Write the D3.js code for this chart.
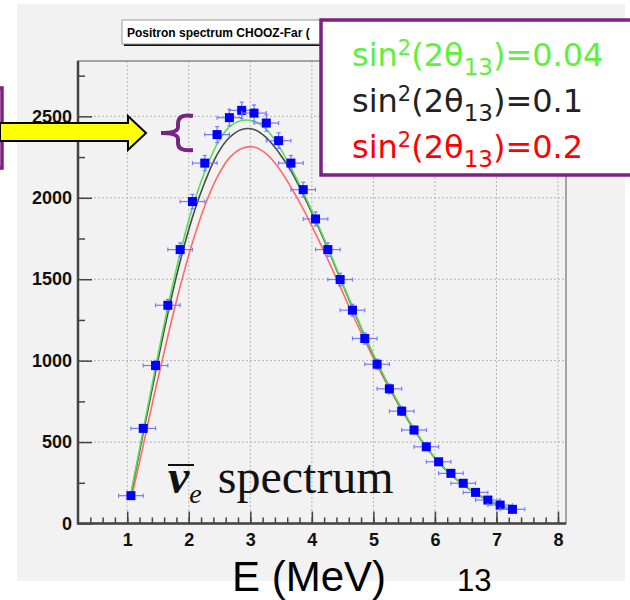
<!DOCTYPE html>
<html>
<head>
  <meta charset="utf-8">
  <style>
    body { margin: 0; background: white; }
    svg { display: block; }
    .tick text { font-family: "Liberation Sans", Arial, sans-serif; font-weight: bold; font-size: 18px; fill: #111; }
  </style>
</head>
<body>
  <svg id="chart" width="630" height="600"></svg>
  <script src="https://cdn.jsdelivr.net/npm/d3@7"></script>
  <script>
    // bin centres (MeV) and measured counts
    var energies = [1.06, 1.26, 1.46, 1.66, 1.86, 2.06, 2.26, 2.46, 2.66, 2.86, 3.06, 3.26, 3.46, 3.66, 3.86, 4.06,
      4.26, 4.46, 4.66, 4.86, 5.06, 5.26, 5.46, 5.66, 5.86, 6.06, 6.26, 6.46, 6.66, 6.86, 7.06, 7.26];
    var counts = [171, 584, 970, 1340, 1682, 1977, 2213, 2388, 2492, 2537, 2520, 2459, 2351, 2213, 2050, 1870,
      1682, 1498, 1310, 1136, 978, 827, 690, 574, 471, 379, 308, 247, 191, 144, 113, 87];
    var countErrors = [14, 24, 31, 36, 41, 44, 47, 49, 50, 50, 50, 50, 48, 47, 45, 43,
      41, 39, 36, 34, 31, 29, 26, 24, 22, 19, 18, 16, 14, 12, 11, 9];
    var energyError = 0.2;

    // expected spectra for three values of sin^2(2theta13)
    var curveGreen = [185, 575, 960, 1330, 1660, 1940, 2160, 2330, 2435, 2475, 2470, 2420, 2320, 2185, 2035, 1870,
      1695, 1510, 1330, 1155, 990, 840, 705, 580, 470, 378, 302, 240, 188, 145, 112, 86];
    var curveBlack = [178, 555, 930, 1290, 1610, 1880, 2095, 2265, 2370, 2420, 2420, 2370, 2280, 2165, 2020, 1860,
      1688, 1505, 1325, 1150, 987, 838, 703, 579, 469, 377, 301, 239, 187, 144, 111, 85];
    var curveRed = [145, 480, 825, 1150, 1455, 1725, 1950, 2125, 2245, 2303, 2312, 2270, 2185, 2065, 1930, 1780,
      1620, 1455, 1285, 1125, 972, 828, 697, 575, 467, 376, 300, 238, 186, 143, 110, 84];

    var xTicks = [1, 2, 3, 4, 5, 6, 7, 8];
    var yTicks = [0, 500, 1000, 1500, 2000, 2500];
    var legendLabels = ["0.04", "0.1", "0.2"];
    var legendColors = ["#5ef03a", "#222222", "#ff0000"];

    var svg = d3.select("#chart");
    var x = d3.scaleLinear().domain([0.2, 8.13]).range([78, 566]);
    var y = d3.scaleLinear().domain([0, 2840]).range([523.5, 61]);

    // grey ROOT canvas
    svg.append("rect").attr("x", 17).attr("y", 4).attr("width", 608).attr("height", 577).attr("fill", "#f2f2f2");

    // grid
    var grid = svg.append("g");
    grid.selectAll(".gx").data(xTicks).join("line")
      .attr("x1", d => x(d)).attr("x2", d => x(d)).attr("y1", y.range()[1]).attr("y2", y.range()[0])
      .attr("stroke", "#b4b4b4").attr("stroke-dasharray", "2,2");
    grid.selectAll(".gy").data(yTicks.slice(1)).join("line")
      .attr("x1", x.range()[0]).attr("x2", x.range()[1]).attr("y1", d => y(d)).attr("y2", d => y(d))
      .attr("stroke", "#b4b4b4").attr("stroke-dasharray", "2,2");

    // axes (ticks pointing inside)
    svg.append("g").attr("transform", "translate(0," + y.range()[0] + ")")
      .call(d3.axisBottom(x).tickValues(d3.range(0.4, 8.1, 0.2)).tickSize(-6).tickFormat(""))
      .call(g => g.select(".domain").remove());
    svg.append("g").attr("transform", "translate(0," + y.range()[0] + ")")
      .call(d3.axisBottom(x).tickValues(xTicks).tickSize(-12).tickPadding(10).tickFormat(d3.format("d")))
      .call(g => g.select(".domain").remove());
    svg.append("g").attr("transform", "translate(" + x.range()[0] + ",0)")
      .call(d3.axisLeft(y).tickValues([250, 750, 1250, 1750, 2250, 2750]).tickSize(-7).tickFormat(""))
      .call(g => g.select(".domain").remove());
    svg.append("g").attr("transform", "translate(" + x.range()[0] + ",0)")
      .call(d3.axisLeft(y).tickValues(yTicks).tickSize(-14).tickPadding(6).tickFormat(d3.format("d")))
      .call(g => g.select(".domain").remove());
    svg.selectAll(".tick line").attr("stroke", "#444").attr("stroke-width", 1.5);

    // frame
    svg.append("rect").attr("x", x.range()[0]).attr("y", y.range()[1])
      .attr("width", x.range()[1] - x.range()[0]).attr("height", y.range()[0] - y.range()[1])
      .attr("fill", "none").attr("stroke", "#8a8a8a").attr("stroke-width", 1.5);
    svg.append("path")
      .attr("d", "M" + x.range()[0] + "," + y.range()[1] + "V" + y.range()[0] + "H" + x.range()[1])
      .attr("fill", "none").attr("stroke", "#444").attr("stroke-width", 2.5);

    // expected curves
    var line = d3.line().x((d, i) => x(energies[i])).y(d => y(d)).curve(d3.curveCatmullRom);
    [[curveRed, "#ff6a6a"], [curveBlack, "#4a4a4a"], [curveGreen, "#55e055"]].forEach(function (c) {
      svg.append("path").datum(c[0]).attr("d", line)
        .attr("fill", "none").attr("stroke", c[1]).attr("stroke-width", 1.6);
    });

    // data points with error bars
    var pts = svg.append("g").selectAll("g").data(counts).join("g");
    var errColor = "#7a7aff";
    pts.append("line")
      .attr("x1", (d, i) => x(energies[i] - energyError)).attr("x2", (d, i) => x(energies[i] + energyError))
      .attr("y1", d => y(d)).attr("y2", d => y(d)).attr("stroke", errColor).attr("stroke-width", 1.2);
    pts.append("line")
      .attr("x1", (d, i) => x(energies[i])).attr("x2", (d, i) => x(energies[i]))
      .attr("y1", (d, i) => y(d - countErrors[i])).attr("y2", (d, i) => y(d + countErrors[i]))
      .attr("stroke", errColor).attr("stroke-width", 1.2);
    [-1, 1].forEach(function (s) {
      pts.append("line")
        .attr("x1", (d, i) => x(energies[i] + s * energyError)).attr("x2", (d, i) => x(energies[i] + s * energyError))
        .attr("y1", d => y(d) - 2).attr("y2", d => y(d) + 2).attr("stroke", errColor).attr("stroke-width", 1.2);
      pts.append("line")
        .attr("x1", (d, i) => x(energies[i]) - 2).attr("x2", (d, i) => x(energies[i]) + 2)
        .attr("y1", (d, i) => y(d + s * countErrors[i])).attr("y2", (d, i) => y(d + s * countErrors[i]))
        .attr("stroke", errColor).attr("stroke-width", 1.2);
    });
    pts.append("rect")
      .attr("x", (d, i) => x(energies[i]) - 4.5).attr("y", d => y(d) - 4.5)
      .attr("width", 9).attr("height", 9).attr("fill", "#0000ff");

    // histogram title box
    svg.append("rect").attr("x", 124).attr("y", 22).attr("width", 230).attr("height", 24).attr("fill", "#111");
    svg.append("rect").attr("x", 122).attr("y", 20).attr("width", 230).attr("height", 24)
      .attr("fill", "white").attr("stroke", "#9a9a9a");
    svg.append("text").attr("x", 127).attr("y", 37)
      .attr("font-family", "Liberation Sans, Arial, sans-serif").attr("font-weight", "bold").attr("font-size", 12)
      .text("Positron spectrum CHOOZ-Far (");

    // nu_e spectrum label
    var nu = svg.append("text").attr("x", 168).attr("y", 493)
      .attr("font-family", "Liberation Serif, Times New Roman, serif").attr("font-size", 48).attr("fill", "#111");
    nu.append("tspan").attr("font-style", "italic").attr("font-weight", "bold").text("ν");
    nu.append("tspan").attr("font-style", "italic").attr("font-size", 28).attr("dy", 10).text("e");
    nu.append("tspan").attr("dx", 16).attr("dy", -10).text("spectrum");
    svg.append("line").attr("x1", 168).attr("x2", 194).attr("y1", 465).attr("y2", 465)
      .attr("stroke", "#111").attr("stroke-width", 2);

    // axis title and page number
    svg.append("text").attr("x", 232).attr("y", 591)
      .attr("font-family", "Liberation Sans, Arial, sans-serif").attr("font-size", 42).text("E (MeV)");
    svg.append("text").attr("x", 457).attr("y", 591)
      .attr("font-family", "Liberation Sans, Arial, sans-serif").attr("font-size", 31).text("13");

    // legend
    var purple = "#7b2283";
    svg.append("rect").attr("x", 321).attr("y", 20).attr("width", 320).attr("height", 155)
      .attr("fill", "white").attr("stroke", purple).attr("stroke-width", 3.5);
    legendLabels.forEach(function (lab, i) {
      var t = svg.append("text").attr("x", 352).attr("y", 66 + i * 46)
        .attr("font-family", "DejaVu Sans, sans-serif").attr("font-size", 32).attr("fill", legendColors[i]);
      t.append("tspan").text("sin");
      t.append("tspan").attr("font-size", 21).attr("dy", -11).text("2");
      t.append("tspan").attr("dy", 11).text("(2θ");
      t.append("tspan").attr("font-size", 23).attr("dy", 9).text("13");
      t.append("tspan").attr("dy", -9).text(")=" + lab);
    });

    // yellow arrow, brace and left box
    svg.append("rect").attr("x", -30).attr("y", 88).attr("width", 32).attr("height", 80)
      .attr("fill", "white").attr("stroke", purple).attr("stroke-width", 3.5);
    svg.append("path").attr("d", "M0,123H128V116L146,133L128,150V141H0Z")
      .attr("fill", "#ffff00").attr("stroke", "#000").attr("stroke-width", 2);
    svg.append("path")
      .attr("d", "M193,116C181,114 178,118 178,124V127C178,131 173,133 161,133C173,133 178,135 178,139V143C178,148 181,151 193,150")
      .attr("fill", "none").attr("stroke", purple).attr("stroke-width", 4);
  </script>
</body>
</html>
